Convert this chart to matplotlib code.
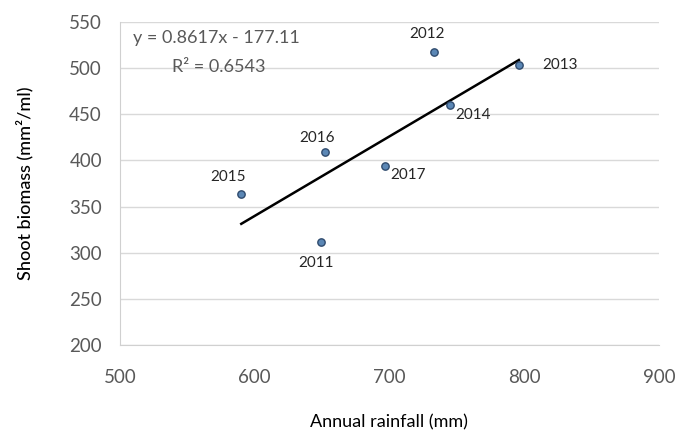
import matplotlib
matplotlib.use("Agg")
import matplotlib.pyplot as plt
import numpy as np

plt.rcParams['font.family'] = ['Lato', 'DejaVu Sans']

years = ['2011', '2012', '2013', '2014', '2015', '2016', '2017']
rainfall = [649, 733, 796, 745, 590, 652, 697]
biomass = [312, 517, 503, 460, 364, 409, 394]
slope = 0.8617
intercept = -177.11
r2 = 0.6543
x_ticks = [500, 600, 700, 800, 900]
y_ticks = [200, 250, 300, 350, 400, 450, 500, 550]

# label offsets (pixels) relative to points: (dx, dy, ha)
label_offsets = {
    '2011': (-5, -21, 'center'),
    '2012': (-7, 18, 'center'),
    '2013': (23, 0, 'left'),
    '2014': (5, -10, 'left'),
    '2015': (-13, 17, 'center'),
    '2016': (-8, 14, 'center'),
    '2017': (5, -9, 'left'),
}

fig = plt.figure(figsize=(6.76, 4.37), dpi=100)
ax = fig.add_axes([120/676, 1-345/437, (659-120)/676, (345-22)/437])

ax.set_xlim(500, 900)
ax.set_ylim(200, 550)
ax.set_xticks(x_ticks)
ax.set_yticks(y_ticks)
ax.grid(axis='y', color='#d9d9d9', linewidth=1)
ax.set_axisbelow(True)
for s in ['top', 'right']:
    ax.spines[s].set_visible(False)
for s in ['left', 'bottom']:
    ax.spines[s].set_color('#d0d0d0')
ax.tick_params(axis='both', length=0, labelsize=13.5, colors='#595959')
ax.tick_params(axis='x', pad=17)
ax.tick_params(axis='y', pad=13)

xs = np.array([min(rainfall), max(rainfall)])
ax.plot(xs, slope*xs + intercept, color='black', linewidth=1.8, zorder=2)

ax.scatter(rainfall, biomass, s=28, facecolor='#5b87b5', edgecolor='#2f4b6e', linewidth=1, zorder=3)

for yr, x, y in zip(years, rainfall, biomass):
    dx, dy, ha = label_offsets[yr]
    ax.annotate(yr, (x, y), xytext=(dx, dy), textcoords='offset pixels',
                ha=ha, va='center', fontsize=11, color='#262626')

fig.text(133/676, 1-38/437, f'y = {slope}x - {abs(intercept)}', fontsize=13,
         color='#595959', ha='left', va='center')
fig.text(172/676, 1-67/437, f'R² = {r2}', fontsize=13,
         color='#595959', ha='left', va='center')

fig.text(25/676, 1-183/437, 'Shoot biomass (mm²/ml)', rotation=90, fontsize=13,
         color='black', ha='center', va='center', fontweight='medium')
fig.text(389/676, 1-422/437, 'Annual rainfall (mm)', fontsize=13,
         color='black', ha='center', va='center')

fig.savefig('out.png', dpi=100)
